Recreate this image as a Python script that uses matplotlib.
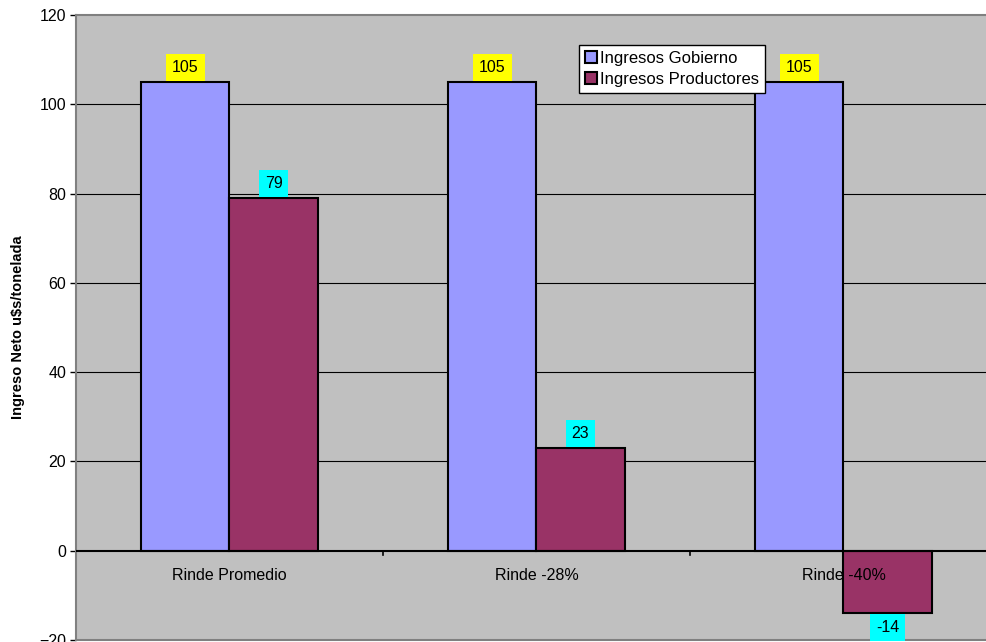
import matplotlib

matplotlib.use("Agg")

import matplotlib.pyplot as plt  # noqa: E402
import numpy as np  # noqa: E402

plt.rcParams["font.family"] = ["Liberation Sans", "DejaVu Sans"]

categorias = ["Rinde Promedio", "Rinde -28%", "Rinde -40%"]
gobierno = [105, 105, 105]
productores = [79, 23, -14]
series_nombres = ["Ingresos Gobierno", "Ingresos Productores"]

COLOR_GOB = "#9999FF"
COLOR_PROD = "#993366"
FONDO = "#C0C0C0"
FS = 11.5

fig = plt.figure(figsize=(9.86, 6.42), dpi=100)
# el area de grafico se sale un poco por la derecha, como en el original
ax = fig.add_axes([76 / 986, 2 / 642, 921 / 986, 625 / 642])
ax.set_facecolor(FONDO)

x = np.arange(len(categorias))
ancho = 0.287

bars_gob = ax.bar(x - ancho / 2, gobierno, ancho, color=COLOR_GOB,
                  edgecolor="black", linewidth=1.5, label=series_nombres[0], zorder=3)
bars_prod = ax.bar(x + ancho / 2, productores, ancho, color=COLOR_PROD,
                   edgecolor="black", linewidth=1.5, label=series_nombres[1], zorder=3)

ax.set_xlim(-0.5, 2.5)
ax.set_ylim(-20, 120)
ax.set_yticks(range(-20, 121, 20))
ax.tick_params(axis="y", labelsize=FS, length=4, width=1, direction="out", pad=3)
ax.set_xticks([0.5, 1.5])
ax.set_xticklabels([])
ax.tick_params(axis="x", length=0)

# grilla horizontal negra
for yv in range(20, 120, 20):
    ax.axhline(yv, color="black", linewidth=0.8, zorder=1)
ax.axhline(0, color="black", linewidth=1.5, zorder=4)
# marcas de categoria sobre el eje en cero
for xb in [0.5, 1.5]:
    ax.plot([xb, xb], [0, -1.0], color="black", linewidth=1.2, zorder=4, clip_on=False)

for side in ["top", "left", "right", "bottom"]:
    ax.spines[side].set_color("#808080")
    ax.spines[side].set_linewidth(1.5)

# etiquetas de categoria junto al eje en cero
for i, cat in enumerate(categorias):
    ax.annotate(cat, xy=(i, 0), xytext=(0, -18), textcoords="offset points",
                ha="center", va="center", fontsize=FS, zorder=6)


def _etiquetar(barras, color_fondo):
    for bar in barras:
        h = bar.get_height()
        xc = bar.get_x() + bar.get_width() / 2
        if h >= 0:
            off, va = 5, "bottom"
        else:
            off, va = -5, "top"
        ax.annotate(f"{h:.0f}", xy=(xc, h), xytext=(0, off), textcoords="offset points",
                    ha="center", va=va, fontsize=FS, zorder=7,
                    bbox=dict(boxstyle="square,pad=0.38", facecolor=color_fondo,
                              edgecolor="none"))


_etiquetar(bars_gob, "#FFFF00")
_etiquetar(bars_prod, "#00FFFF")

ax.set_ylabel("Ingreso Neto u$s/tonelada", fontsize=10.5, fontweight="bold", labelpad=10)

leg = ax.legend(loc="upper left", bbox_to_anchor=((579 - 76) / 921, (642 - 2 - 45) / 625),
                fontsize=FS + 0.5, frameon=True, fancybox=False, borderpad=0.35,
                handlelength=0.75, handleheight=0.75, handletextpad=0.15, labelspacing=0.35,
                borderaxespad=0)
leg.get_frame().set_edgecolor("black")
leg.get_frame().set_linewidth(1)
leg.get_frame().set_facecolor("white")
leg.get_frame().set_alpha(1)
leg.set_zorder(8)

fig.savefig("out.png", dpi=100)
